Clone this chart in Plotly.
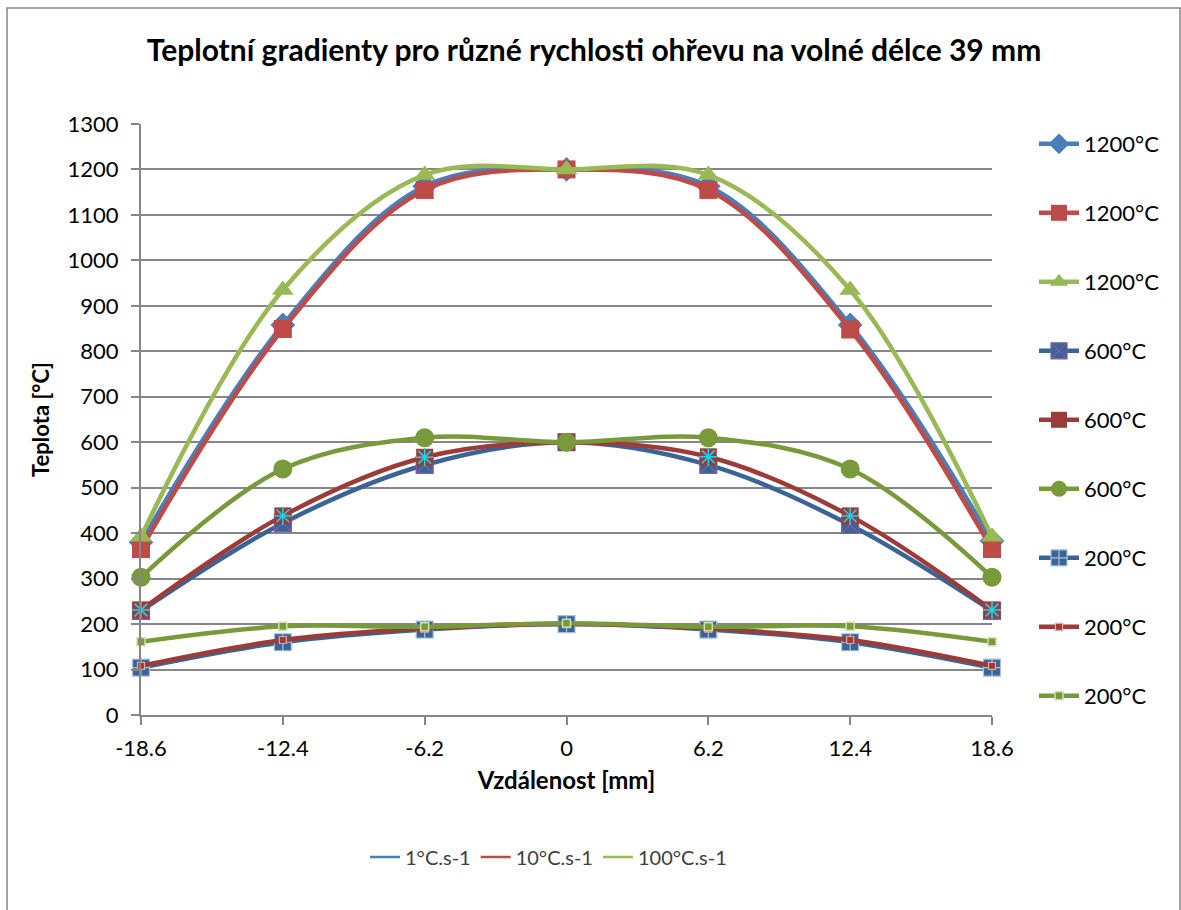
import plotly.graph_objects as go

# Distance from the centre of the free length [mm]
distance = [-18.6, -12.4, -6.2, 0, 6.2, 12.4, 18.6]

# Temperature profiles [°C] for each target temperature and heating rate
t1200_r1 = [380, 858, 1163, 1200, 1163, 858, 383]
t1200_r10 = [365, 849, 1155, 1200, 1155, 848, 365]
t1200_r100 = [392, 935, 1188, 1200, 1188, 935, 392]

t600_r1 = [229, 422, 550, 600, 550, 418, 229]
t600_r10 = [231, 438, 567, 600, 568, 438, 231]
t600_r100 = [303, 541, 610, 600, 610, 541, 303]

t200_r1 = [104, 160, 188, 200, 188, 160, 104]
t200_r10 = [108, 165, 190, 200, 190, 165, 108]
t200_r100 = [161, 195, 194, 202, 194, 195, 161]

series_labels = ["1200°C", "1200°C", "1200°C", "600°C", "600°C", "600°C",
                 "200°C", "200°C", "200°C"]
rate_labels = ["1°C.s-1", "10°C.s-1", "100°C.s-1"]

y_ticks = list(range(0, 1301, 100))

FONT = "Lato, 'Open Sans', sans-serif"
W, H = 1181, 910
L, R, T, B = 141, 189, 124, 195
PW, PH = W - L - R, H - T - B


def px_x(px):
    return (px - L) / PW


def px_y(py):
    return (H - B - py) / PH


BLUE, RED, GREEN = "#4A7EBB", "#BE4B48", "#98B954"
BLUE_D, RED_D, GREEN_D = "#3A6496", "#9C3C39", "#789A3A"

styles = [
    (t1200_r1, BLUE, dict(symbol="diamond", size=19, color=BLUE, line=dict(width=0))),
    (t1200_r10, RED, dict(symbol="square", size=18, color=RED, line=dict(width=0))),
    (t1200_r100, GREEN, dict(symbol="triangle-up", size=19, color=GREEN, line=dict(width=0))),
    (t600_r1, BLUE_D, dict(symbol="square-x", size=17, color=BLUE_D,
                           line=dict(width=1.2, color="#7D5FA0"))),
    (t600_r10, RED_D, dict(symbol="square", size=17, color=RED_D, line=dict(width=0))),
    (t600_r100, GREEN_D, dict(symbol="circle", size=19, color=GREEN_D, line=dict(width=0))),
    (t200_r1, BLUE_D, dict(symbol="square-cross", size=17, color=BLUE_D,
                           line=dict(width=1.2, color="#A9C1E0"))),
    (t200_r10, RED_D, dict(symbol="square", size=7, color=RED_D,
                           line=dict(width=1.2, color="#E2A6A4"))),
    (t200_r100, GREEN_D, dict(symbol="square", size=8, color=GREEN_D,
                              line=dict(width=1.5, color="#CDE0AE"))),
]

fig = go.Figure()

for i, (vals, lc, mk) in enumerate(styles):
    fig.add_trace(go.Scatter(
        x=distance, y=vals, mode="lines+markers", name=series_labels[i],
        line=dict(color=lc, width=4.5, shape="spline", smoothing=1.0),
        marker=mk, legendgroup=f"g{i}", cliponaxis=False,
    ))
    if i == 4:
        # asterisk drawn over the red squares of the 600 °C / 10 °C.s-1 series
        fig.add_trace(go.Scatter(
            x=distance, y=vals, mode="markers", showlegend=False,
            legendgroup=f"g{i}", cliponaxis=False,
            marker=dict(symbol="asterisk-open", size=15,
                        line=dict(width=1.5, color="#4BACC6")),
        ))

# Heating-rate key below the chart
for lbl, c in zip(rate_labels, [BLUE, RED, GREEN]):
    fig.add_trace(go.Scatter(
        x=[None], y=[None], mode="lines", name=lbl, legend="legend2",
        line=dict(color=c, width=2.5),
    ))

fig.update_layout(
    width=W, height=H,
    margin=dict(l=L, r=R, t=T, b=B, autoexpand=False),
    paper_bgcolor="white", plot_bgcolor="white",
    font=dict(family=FONT, size=22, color="black"),
    title=dict(
        text="<b>Teplotní gradienty pro různé rychlosti ohřevu na volné délce 39 mm</b>",
        x=0.503, xanchor="center", y=1 - 50 / H, yanchor="middle",
        font=dict(family=FONT, size=30, color="black"),
    ),
    xaxis=dict(
        range=[-18.6, 18.6], tickvals=distance, ticktext=[str(d) for d in distance],
        showgrid=False, zeroline=False, showline=True, linecolor="#868686", linewidth=2,
        ticks="outside", ticklen=8, tickwidth=2, tickcolor="#868686",
        ticklabelstandoff=5, tickfont=dict(size=22),
        title=dict(text="<b>Vzdálenost [mm]</b>", font=dict(size=24), standoff=12),
    ),
    yaxis=dict(
        range=[0, 1300], tickvals=y_ticks,
        showgrid=True, gridcolor="#868686", gridwidth=2, zeroline=False,
        showline=True, linecolor="#868686", linewidth=2,
        ticks="outside", ticklen=8, tickwidth=2, tickcolor="#868686",
        ticklabelstandoff=8, tickfont=dict(size=22),
        title=dict(text="<b>Teplota [°C]</b>", font=dict(size=22), standoff=12),
    ),
    legend=dict(
        x=px_x(1034), xanchor="left", yref="container", y=1 - 123 / H, yanchor="top",
        tracegroupgap=37.4, font=dict(size=22), bgcolor="rgba(0,0,0,0)",
        itemwidth=40, maxheight=760,
    ),
    legend2=dict(
        orientation="h", x=px_x(365), xanchor="left", y=px_y(857), yanchor="middle",
        font=dict(size=20, color="#404040"), bgcolor="rgba(0,0,0,0)",
    ),
    shapes=[dict(
        type="rect", xref="paper", yref="paper",
        x0=px_x(7), x1=px_x(1180), y0=px_y(916), y1=px_y(8),
        line=dict(color="#868686", width=1.5), fillcolor="rgba(0,0,0,0)", layer="below",
    )],
)

fig.write_html("out.html")
